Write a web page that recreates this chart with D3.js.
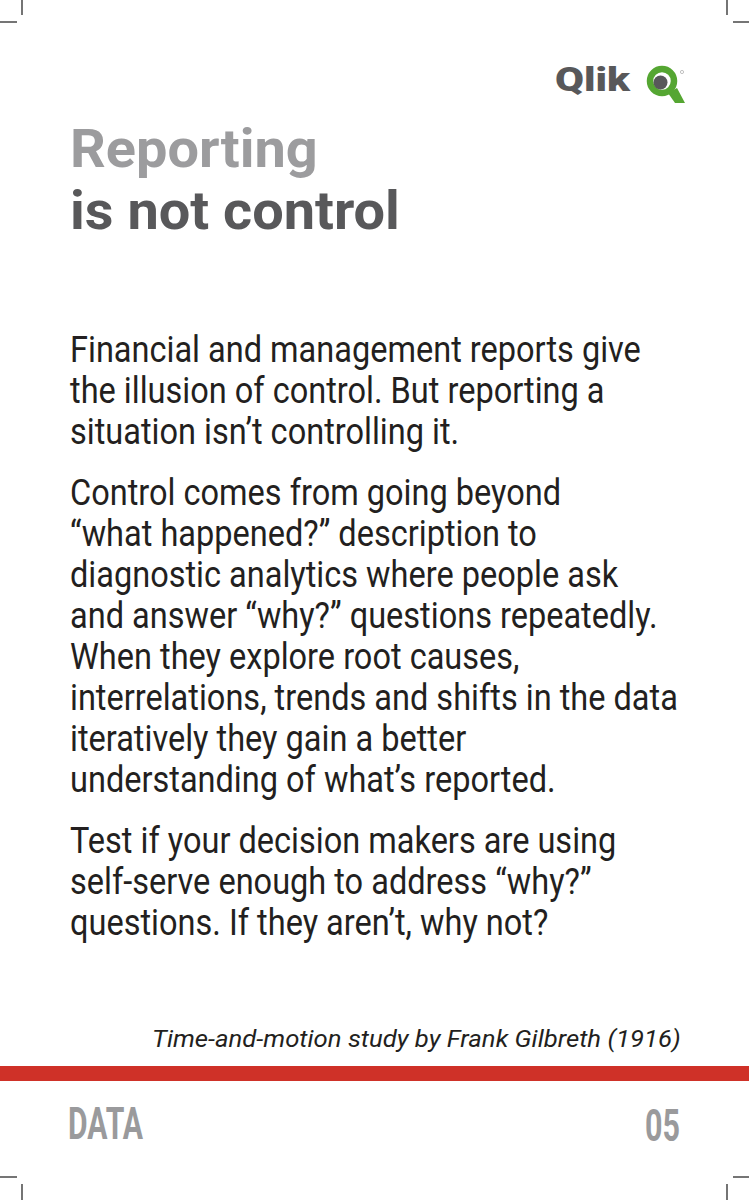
<!DOCTYPE html>
<html><head><meta charset="utf-8">
<script src="https://cdn.jsdelivr.net/npm/d3@7"></script>
<style>html,body{margin:0;padding:0;background:#fff}svg{display:block}</style>
</head><body>
<script>
// ---- content ----
const brand = "Qlik";
const titleLines = ["Reporting", "is not control"];
const titleShades = ["light", "dark"];
const paragraphs = [
  ["Financial and management reports give",
   "the illusion of control. But reporting a",
   "situation isn\u2019t controlling it."],
  ["Control comes from going beyond",
   "\u201cwhat happened?\u201d description to",
   "diagnostic analytics where people ask",
   "and answer \u201cwhy?\u201d questions repeatedly.",
   "When they explore root causes,",
   "interrelations, trends and shifts in the data",
   "iteratively they gain a better",
   "understanding of what\u2019s reported."],
  ["Test if your decision makers are using",
   "self-serve enough to address \u201cwhy?\u201d",
   "questions. If they aren\u2019t, why not?"]
];
const caption = "Time-and-motion study by Frank Gilbreth (1916)";
const footerSection = "DATA";
const pageNumber = "05";

// ---- drawing ----
const W = 749, H = 1200;
const svg = d3.select("body").append("svg").attr("width", W).attr("height", H);
svg.append("rect").attr("width", W).attr("height", H).attr("fill", "#fff");

const colors = {light: "#9c9c9e", dark: "#58585a", body: "#231f20", red: "#cf3128", green: "#55a632", footer: "#9a9a9c", mark: "#3a3a3a"};

// crop marks
const marks = [
  [22,0,22,15],[0,22,17,22],[727,0,727,15],[733,22,749,22],
  [0,1177,17,1177],[22,1184,22,1200],[733,1177,749,1177],[727,1184,727,1200]
];
svg.append("g").selectAll("line").data(marks).join("line")
  .attr("x1", d=>d[0]).attr("y1", d=>d[1]).attr("x2", d=>d[2]).attr("y2", d=>d[3])
  .attr("stroke", colors.mark).attr("stroke-width", 1.4);

// fit text horizontally with a scale transform (keeps bounding boxes honest)
function fitScale(sel, targetWidth, anchorX, yFn) {
  const widths = sel.nodes().map(n => n.getComputedTextLength());
  const k = targetWidth / d3.max(widths);
  sel.attr("x", 0).attr("y", 0)
     .attr("transform", (d, i) => `translate(${anchorX},${yFn(d, i)}) scale(${k},1)`);
}

// logo
const logo = svg.append("g");
const qText = logo.append("text").text(brand)
  .attr("font-family", "Roboto, sans-serif").attr("font-weight", 900).attr("font-size", 33)
  .attr("fill", colors.dark);
fitScale(qText, 75, 555, () => 91);
logo.append("path").attr("d", "M668,93 L677,88 L685,103 L675,103 Z").attr("fill", colors.green);
logo.append("circle").attr("cx", 662).attr("cy", 81).attr("r", 12)
  .attr("fill", "none").attr("stroke", colors.green).attr("stroke-width", 6.5);
logo.append("circle").attr("cx", 660.5).attr("cy", 82.5).attr("r", 7).attr("fill", colors.dark);
logo.append("circle").attr("cx", 682).attr("cy", 72).attr("r", 1.6)
  .attr("fill", "none").attr("stroke", "#999").attr("stroke-width", 0.6);

// title
const titleY = d3.scaleLinear().domain([0, 1]).range([167, 229]);
const tSel = svg.append("g").selectAll("text").data(titleLines).join("text")
  .text(d => d)
  .attr("font-family", "Roboto, sans-serif").attr("font-weight", 700).attr("font-size", 53)
  .attr("fill", (d, i) => colors[titleShades[i]]);
fitScale(tSel, 330, 70, (d, i) => titleY(i));

// body
const bodyLines = [];
paragraphs.forEach((p, pi) => p.forEach(line => bodyLines.push({text: line, para: pi})));
const lineY = d3.scaleLinear().domain([0, 1]).range([362, 403]);
const paraGap = 20 / 41;
const bSel = svg.append("g").selectAll("text").data(bodyLines).join("text")
  .text(d => d.text)
  .attr("font-family", "Roboto, sans-serif").attr("font-weight", 400).attr("font-size", 36)
  .attr("fill", colors.body);
fitScale(bSel, 608, 70, (d, i) => lineY(i + d.para * paraGap));

// caption
const cSel = svg.append("text").text(caption)
  .attr("font-family", "Roboto, sans-serif").attr("font-style", "italic").attr("font-size", 23)
  .attr("fill", colors.body);
fitScale(cSel, 529, 152, () => 1047);

// red band
svg.append("rect").attr("x", 0).attr("y", 1066).attr("width", W).attr("height", 15).attr("fill", colors.red);

// footer
const fSel = svg.append("text").text(footerSection)
  .attr("font-family", "Roboto, sans-serif").attr("font-weight", 700).attr("font-size", 45)
  .attr("fill", colors.footer);
fitScale(fSel, 75, 68, () => 1139);
const pSel = svg.append("text").text(pageNumber)
  .attr("font-family", "Roboto, sans-serif").attr("font-weight", 700).attr("font-size", 45)
  .attr("fill", colors.footer);
fitScale(pSel, 35, 645, () => 1141);
</script>
</body></html>
